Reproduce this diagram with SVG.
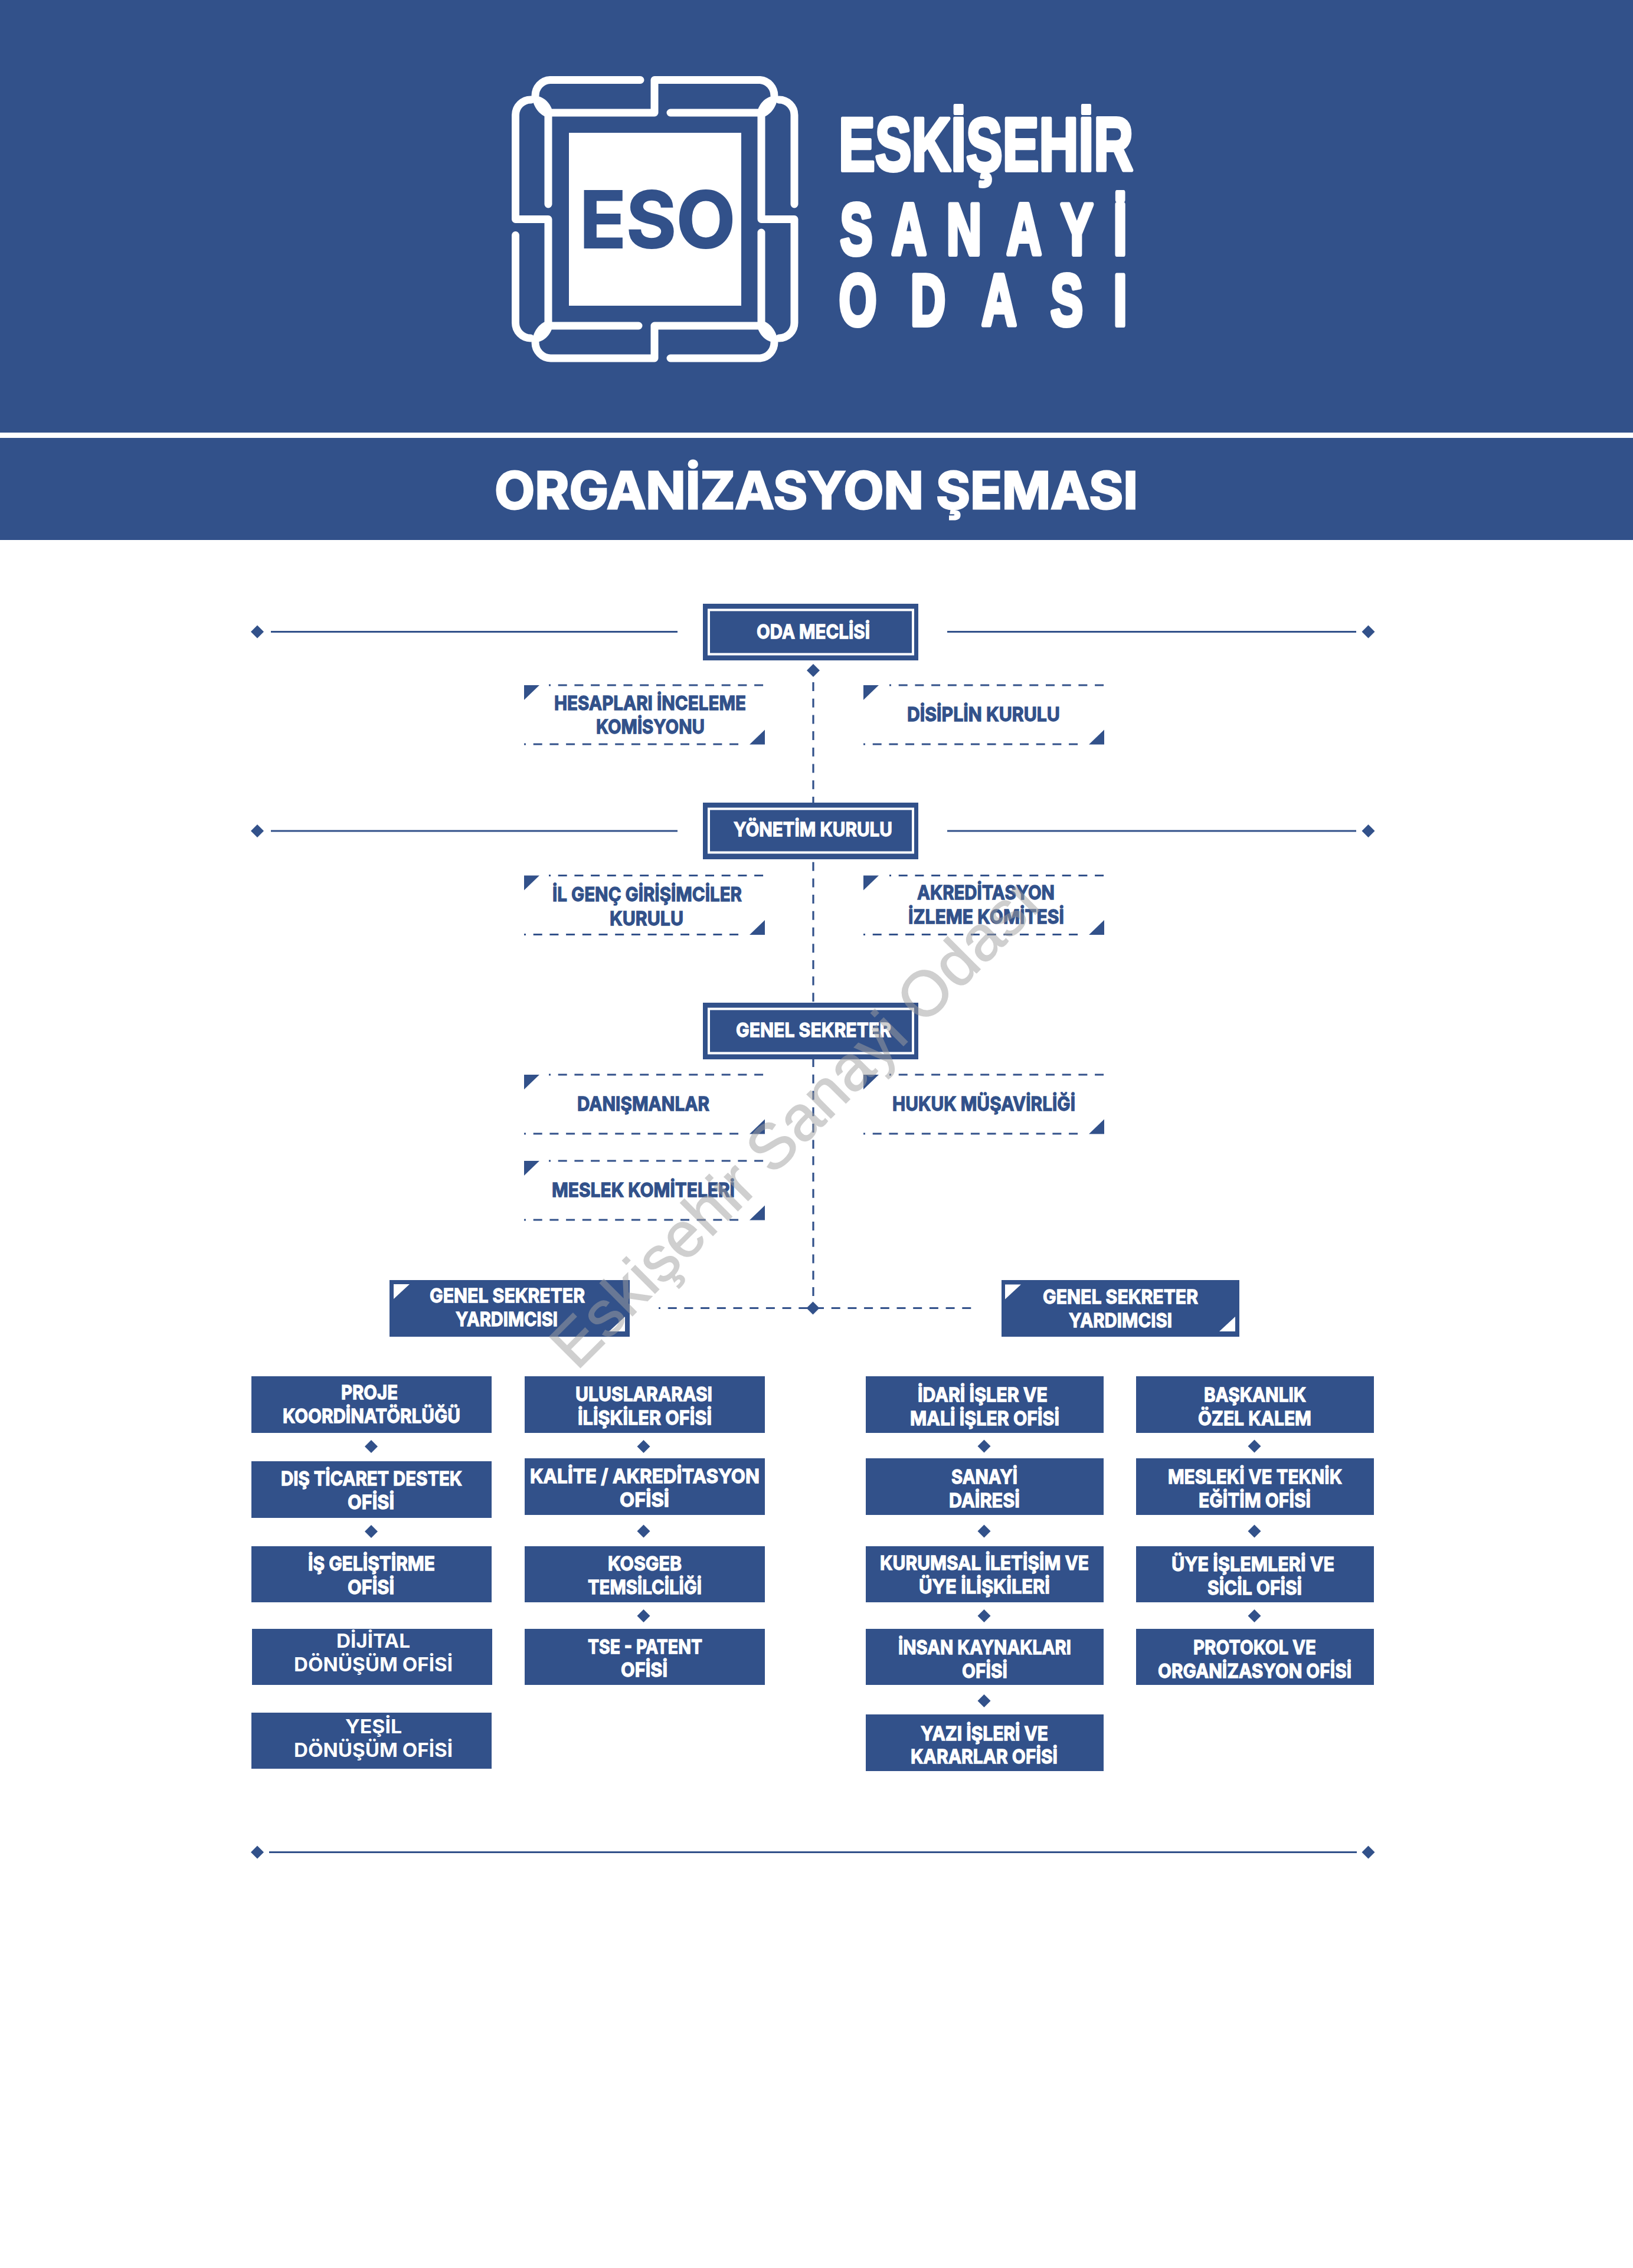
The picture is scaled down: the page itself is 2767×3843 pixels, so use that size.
<svg xmlns="http://www.w3.org/2000/svg" width="2767" height="3843" viewBox="0 0 2767 3843">
<style>
text{font-family:Inter,"Liberation Sans",sans-serif;font-weight:700}
.w{fill:#fff;stroke:#fff}
.b{fill:#32518a;stroke:#32518a}
.t{font-size:33px;stroke-width:1.3;transform:translateY(-1.5px)}
.n{stroke:none}
.bx{fill:#32518a}
.in{fill:none;stroke:#fff;stroke-width:4}
.sol{stroke:#32518a;stroke-width:3.200;fill:none}
.dash{stroke:#32518a;stroke-width:3.200;fill:none;stroke-dasharray:15 12.7}
.dot{stroke-dashoffset:12}
.logo{fill:none;stroke:#fff;stroke-width:13;stroke-linecap:round;stroke-linejoin:round}
.hd{font-family:"Liberation Sans",Arial,sans-serif;fill:#fff;stroke:#fff;stroke-linejoin:round}
.wm{font-family:"Liberation Sans",Arial,sans-serif;font-weight:400;font-size:108px;fill:#a0a0a0;stroke:#a0a0a0;stroke-width:1.500;opacity:.5}
</style>
<defs>
<polygon id="d" points="0,-11 11,0 0,11 -11,0" fill="#32518a"/>
<path id="lens" d="M902 163C915 160 931 170 936 188L925 198C912 193 902 178 902 163Z" fill="#fff"/>
<g id="tlb"><polygon points="0,0 26,0 0,25" fill="#32518a"/></g>
<g id="brb"><polygon points="0,0 -26,0 0,-25" fill="#32518a"/></g>
<g id="tlw"><polygon points="0,0 27,0 0,25" fill="#fff"/></g>
<g id="brw"><polygon points="0,0 -27,0 0,-25" fill="#fff"/></g>
</defs>
<rect width="2767" height="3843" fill="#fff"/>
<g id="header">
<rect width="2767" height="733" class="bx"/>
<rect y="742" width="2767" height="173" class="bx"/>
<g id="logo">
<path class="logo" d="M1085 135.500H932A26 27 0 0 0 907 163"/>
<path class="logo" d="M929 346V191H1109V135.500H1288A26 27 0 0 1 1312 163"/>
<path class="logo" d="M1136 191H1290V371.500H1346V547A26 26 0 0 1 1320 573"/>
<path class="logo" d="M900 169A26 26 0 0 0 873.500 195V371.500H929V552H1082"/>
<path class="logo" d="M1346 346V195A26 26 0 0 0 1320 169"/>
<path class="logo" d="M1290 394V552H1109V607H933A26 27 0 0 1 907 580"/>
<path class="logo" d="M873.500 398.500V547A26 26 0 0 0 899 573"/>
<path class="logo" d="M1136 607H1288A26 27 0 0 0 1312 580"/>
<use href="#lens"/>
<use href="#lens" transform="translate(2219.500 0) scale(-1 1)"/>
<use href="#lens" transform="translate(0 742.500) scale(1 -1)"/>
<use href="#lens" transform="translate(2219.500 742.500) scale(-1 -1)"/>
<rect x="964" y="225" width="292" height="293" fill="#fff"/>
<text class="b" x="982" y="420" font-size="133" stroke-width="2" textLength="264" lengthAdjust="spacingAndGlyphs">ESO</text>
</g>
<text class="hd" x="1421" y="289" font-size="128" font-weight="700" stroke-width="6" textLength="499" lengthAdjust="spacingAndGlyphs">ESKİŞEHİR</text>
<text class="hd" transform="scale(.67 1)" x="2125 2255 2394 2546 2683 2816" y="431" font-size="122" stroke-width="8">SANAYİ</text>
<text class="hd" transform="scale(.67 1)" x="2122 2303 2483 2657 2816" y="551" font-size="122" stroke-width="8">ODASI</text>
<text class="w" x="838" y="862" font-size="86" font-weight="800" stroke-width="3" textLength="1090" lengthAdjust="spacingAndGlyphs">ORGANİZASYON ŞEMASI</text>
</g>
<g id="connectors">
<path class="sol" d="M459 1070.500H1148M1605 1070.500H2298M459 1408H1148M1605 1408H2298M456 3138.500H2299"/>
<path class="dash" d="M1378 1156V2216"/>
<path class="dash dot" d="M1116 2216.500H1649"/>
<use href="#d" x="436" y="1070.500"/><use href="#d" x="2318.500" y="1070.500"/>
<use href="#d" x="436" y="1408"/><use href="#d" x="2318.500" y="1408"/>
<use href="#d" x="436" y="3138.500"/><use href="#d" x="2318.500" y="3138.500"/>
<use href="#d" x="1378" y="1136"/>
<use href="#d" x="1377.500" y="2216.500"/>
<use href="#d" x="629" y="2451"/><use href="#d" x="629" y="2595"/>
<use href="#d" x="1090.500" y="2451"/><use href="#d" x="1090.500" y="2594.500"/><use href="#d" x="1090.500" y="2738"/>
<use href="#d" x="1667.500" y="2450.500"/><use href="#d" x="1667.500" y="2594.500"/><use href="#d" x="1667.500" y="2738"/><use href="#d" x="1667.500" y="2882"/>
<use href="#d" x="2125.500" y="2450.500"/><use href="#d" x="2125.500" y="2594.500"/><use href="#d" x="2125.500" y="2738"/>
</g>
<g id="oda-meclisi"><rect class="bx" x="1191" y="1023" width="365" height="96"/><rect class="in" x="1201" y="1033.500" width="346" height="75"/><text class="t w" x="1282" y="1083.500" textLength="192" lengthAdjust="spacingAndGlyphs">ODA MECLİSİ</text></g>
<g id="yonetim-kurulu"><rect class="bx" x="1191" y="1360" width="365" height="96"/><rect class="in" x="1201" y="1370.500" width="346" height="74"/><text class="t w" x="1243" y="1418.700" textLength="269" lengthAdjust="spacingAndGlyphs">YÖNETİM KURULU</text></g>
<g id="genel-sekreter"><rect class="bx" x="1191" y="1699" width="365" height="96"/><rect class="in" x="1201" y="1709.500" width="346" height="75"/><text class="t w" x="1247" y="1758.800" textLength="263" lengthAdjust="spacingAndGlyphs">GENEL SEKRETER</text></g>

<g id="hesaplari">
<path class="dash dot" d="M930 1161H1296"/><path class="dash dot" d="M888 1261H1255"/>
<use href="#tlb" x="888" y="1161"/><use href="#brb" x="1296" y="1261.500"/>
<text class="t b" x="939" y="1204" textLength="325" lengthAdjust="spacingAndGlyphs">HESAPLARI İNCELEME</text>
<text class="t b" x="1010" y="1244.500" textLength="184" lengthAdjust="spacingAndGlyphs">KOMİSYONU</text>
</g>
<g id="disiplin">
<path class="dash dot" d="M1507 1161H1871"/><path class="dash dot" d="M1463 1261H1830"/>
<use href="#tlb" x="1463" y="1161"/><use href="#brb" x="1871" y="1261.500"/>
<text class="t b" x="1537" y="1223" textLength="259" lengthAdjust="spacingAndGlyphs">DİSİPLİN KURULU</text>
</g>
<g id="il-genc">
<path class="dash dot" d="M930 1483.500H1296"/><path class="dash dot" d="M888 1583.500H1255"/>
<use href="#tlb" x="888" y="1483.500"/><use href="#brb" x="1296" y="1584"/>
<text class="t b" x="936" y="1528" textLength="321" lengthAdjust="spacingAndGlyphs">İL GENÇ GİRİŞİMCİLER</text>
<text class="t b" x="1033" y="1569" textLength="125" lengthAdjust="spacingAndGlyphs">KURULU</text>
</g>
<g id="akreditasyon">
<path class="dash dot" d="M1507 1483.500H1871"/><path class="dash dot" d="M1463 1583.500H1830"/>
<use href="#tlb" x="1463" y="1483.500"/><use href="#brb" x="1871" y="1584"/>
<text class="t b" x="1554" y="1525" textLength="233" lengthAdjust="spacingAndGlyphs">AKREDİTASYON</text>
<text class="t b" x="1539" y="1566" textLength="264" lengthAdjust="spacingAndGlyphs">İZLEME KOMİTESİ</text>
</g>
<g id="danismanlar">
<path class="dash dot" d="M930 1821H1296"/><path class="dash dot" d="M888 1921H1255"/>
<use href="#tlb" x="888" y="1821"/><use href="#brb" x="1296" y="1921.500"/>
<text class="t b" x="978" y="1883" textLength="224" lengthAdjust="spacingAndGlyphs">DANIŞMANLAR</text>
</g>
<g id="hukuk">
<path class="dash dot" d="M1507 1821H1871"/><path class="dash dot" d="M1463 1921H1830"/>
<use href="#tlb" x="1463" y="1821"/><use href="#brb" x="1871" y="1921.500"/>
<text class="t b" x="1512" y="1883" textLength="310" lengthAdjust="spacingAndGlyphs">HUKUK MÜŞAVİRLİĞİ</text>
</g>
<g id="meslek">
<path class="dash dot" d="M930 1967H1296"/><path class="dash dot" d="M888 2067H1255"/>
<use href="#tlb" x="888" y="1967"/><use href="#brb" x="1296" y="2067.500"/>
<text class="t b" x="935" y="2029" textLength="310" lengthAdjust="spacingAndGlyphs">MESLEK KOMİTELERİ</text>
</g>
<g id="gsy-sol"><rect class="bx" x="660" y="2169" width="407" height="96"/>
<use href="#tlw" x="667" y="2176"/><use href="#brw" x="1059" y="2256"/>
<text class="t w" x="728" y="2208" textLength="263" lengthAdjust="spacingAndGlyphs">GENEL SEKRETER</text>
<text class="t w" x="772" y="2248" textLength="173" lengthAdjust="spacingAndGlyphs">YARDIMCISI</text></g>
<g id="gsy-sag"><rect class="bx" x="1697" y="2169" width="403" height="96"/>
<use href="#tlw" x="1703" y="2176.500"/><use href="#brw" x="2093" y="2256"/>
<text class="t w" x="1767" y="2210" textLength="263" lengthAdjust="spacingAndGlyphs">GENEL SEKRETER</text>
<text class="t w" x="1811" y="2250" textLength="175" lengthAdjust="spacingAndGlyphs">YARDIMCISI</text></g>

<g id="proje"><rect class="bx" x="426" y="2332" width="407" height="96"/><text class="t w" x="578" y="2372.500" textLength="96" lengthAdjust="spacingAndGlyphs">PROJE</text><text class="t w" x="479" y="2412.500" textLength="301" lengthAdjust="spacingAndGlyphs">KOORDİNATÖRLÜĞÜ</text></g>
<g id="dis-ticaret"><rect class="bx" x="426" y="2476" width="407" height="96"/><text class="t w" x="476" y="2518" textLength="307" lengthAdjust="spacingAndGlyphs">DIŞ TİCARET DESTEK</text><text class="t w" x="589" y="2558" textLength="79" lengthAdjust="spacingAndGlyphs">OFİSİ</text></g>
<g id="is-gelistirme"><rect class="bx" x="426" y="2620" width="407" height="95"/><text class="t w" x="522" y="2662" textLength="215" lengthAdjust="spacingAndGlyphs">İŞ GELİŞTİRME</text><text class="t w" x="589" y="2702" textLength="79" lengthAdjust="spacingAndGlyphs">OFİSİ</text></g>
<g id="dijital"><rect class="bx" x="427" y="2760" width="407" height="95"/><text class="t w n" x="570" y="2793.700" textLength="125" lengthAdjust="spacingAndGlyphs">DİJİTAL</text><text class="t w n" x="498" y="2833.700" textLength="269" lengthAdjust="spacingAndGlyphs">DÖNÜŞÜM OFİSİ</text></g>
<g id="yesil"><rect class="bx" x="426" y="2902" width="407" height="95"/><text class="t w n" x="585" y="2938.500" textLength="96" lengthAdjust="spacingAndGlyphs">YEŞİL</text><text class="t w n" x="498" y="2978.500" textLength="269" lengthAdjust="spacingAndGlyphs">DÖNÜŞÜM OFİSİ</text></g>

<g id="uluslararasi"><rect class="bx" x="889" y="2332" width="407" height="96"/><text class="t w" x="975" y="2375" textLength="232" lengthAdjust="spacingAndGlyphs">ULUSLARARASI</text><text class="t w" x="979" y="2415" textLength="227" lengthAdjust="spacingAndGlyphs">İLİŞKİLER OFİSİ</text></g>
<g id="kalite"><rect class="bx" x="889" y="2471" width="407" height="96"/><text class="t w" x="898" y="2514.500" textLength="389" lengthAdjust="spacingAndGlyphs">KALİTE / AKREDİTASYON</text><text class="t w" x="1050" y="2554" textLength="84" lengthAdjust="spacingAndGlyphs">OFİSİ</text></g>
<g id="kosgeb"><rect class="bx" x="889" y="2620" width="407" height="95"/><text class="t w" x="1030" y="2662" textLength="125" lengthAdjust="spacingAndGlyphs">KOSGEB</text><text class="t w" x="996" y="2702" textLength="193" lengthAdjust="spacingAndGlyphs">TEMSİLCİLİĞİ</text></g>
<g id="tse"><rect class="bx" x="889" y="2760" width="407" height="95"/><text class="t w" x="996" y="2803" textLength="194" lengthAdjust="spacingAndGlyphs">TSE - PATENT</text><text class="t w" x="1052" y="2842.500" textLength="79" lengthAdjust="spacingAndGlyphs">OFİSİ</text></g>

<g id="idari"><rect class="bx" x="1467" y="2332" width="403" height="96"/><text class="t w" x="1555" y="2376" textLength="220" lengthAdjust="spacingAndGlyphs">İDARİ İŞLER VE</text><text class="t w" x="1542" y="2416.500" textLength="253" lengthAdjust="spacingAndGlyphs">MALİ İŞLER OFİSİ</text></g>
<g id="sanayi"><rect class="bx" x="1467" y="2471" width="403" height="96"/><text class="t w" x="1612" y="2515.700" textLength="112" lengthAdjust="spacingAndGlyphs">SANAYİ</text><text class="t w" x="1608" y="2555.800" textLength="120" lengthAdjust="spacingAndGlyphs">DAİRESİ</text></g>
<g id="kurumsal"><rect class="bx" x="1467" y="2620" width="403" height="95"/><text class="t w" x="1491" y="2661" textLength="354" lengthAdjust="spacingAndGlyphs">KURUMSAL İLETİŞİM VE</text><text class="t w" x="1557" y="2701" textLength="222" lengthAdjust="spacingAndGlyphs">ÜYE İLİŞKİLERİ</text></g>
<g id="insan"><rect class="bx" x="1467" y="2760" width="403" height="95"/><text class="t w" x="1522" y="2804" textLength="293" lengthAdjust="spacingAndGlyphs">İNSAN KAYNAKLARI</text><text class="t w" x="1630" y="2844" textLength="77" lengthAdjust="spacingAndGlyphs">OFİSİ</text></g>
<g id="yazi"><rect class="bx" x="1467" y="2905" width="403" height="96"/><text class="t w" x="1560" y="2950" textLength="216" lengthAdjust="spacingAndGlyphs">YAZI İŞLERİ VE</text><text class="t w" x="1543" y="2989" textLength="249" lengthAdjust="spacingAndGlyphs">KARARLAR OFİSİ</text></g>

<g id="baskanlik"><rect class="bx" x="1925" y="2332" width="403" height="96"/><text class="t w" x="2040" y="2376" textLength="173" lengthAdjust="spacingAndGlyphs">BAŞKANLIK</text><text class="t w" x="2030" y="2416.500" textLength="192" lengthAdjust="spacingAndGlyphs">ÖZEL KALEM</text></g>
<g id="mesleki"><rect class="bx" x="1925" y="2471" width="403" height="96"/><text class="t w" x="1979" y="2515.700" textLength="295" lengthAdjust="spacingAndGlyphs">MESLEKİ VE TEKNİK</text><text class="t w" x="2031" y="2555.800" textLength="190" lengthAdjust="spacingAndGlyphs">EĞİTİM OFİSİ</text></g>
<g id="uye"><rect class="bx" x="1925" y="2620" width="403" height="95"/><text class="t w" x="1985" y="2663.500" textLength="276" lengthAdjust="spacingAndGlyphs">ÜYE İŞLEMLERİ VE</text><text class="t w" x="2046" y="2703.500" textLength="160" lengthAdjust="spacingAndGlyphs">SİCİL OFİSİ</text></g>
<g id="protokol"><rect class="bx" x="1925" y="2760" width="403" height="95"/><text class="t w" x="2022" y="2804" textLength="208" lengthAdjust="spacingAndGlyphs">PROTOKOL VE</text><text class="t w" x="1962" y="2844" textLength="328" lengthAdjust="spacingAndGlyphs">ORGANİZASYON OFİSİ</text></g>

<text class="wm" transform="translate(983 2318) rotate(-44.900)" x="-8" y="0">Eskişehir Sanayi Odası</text>
</svg>
